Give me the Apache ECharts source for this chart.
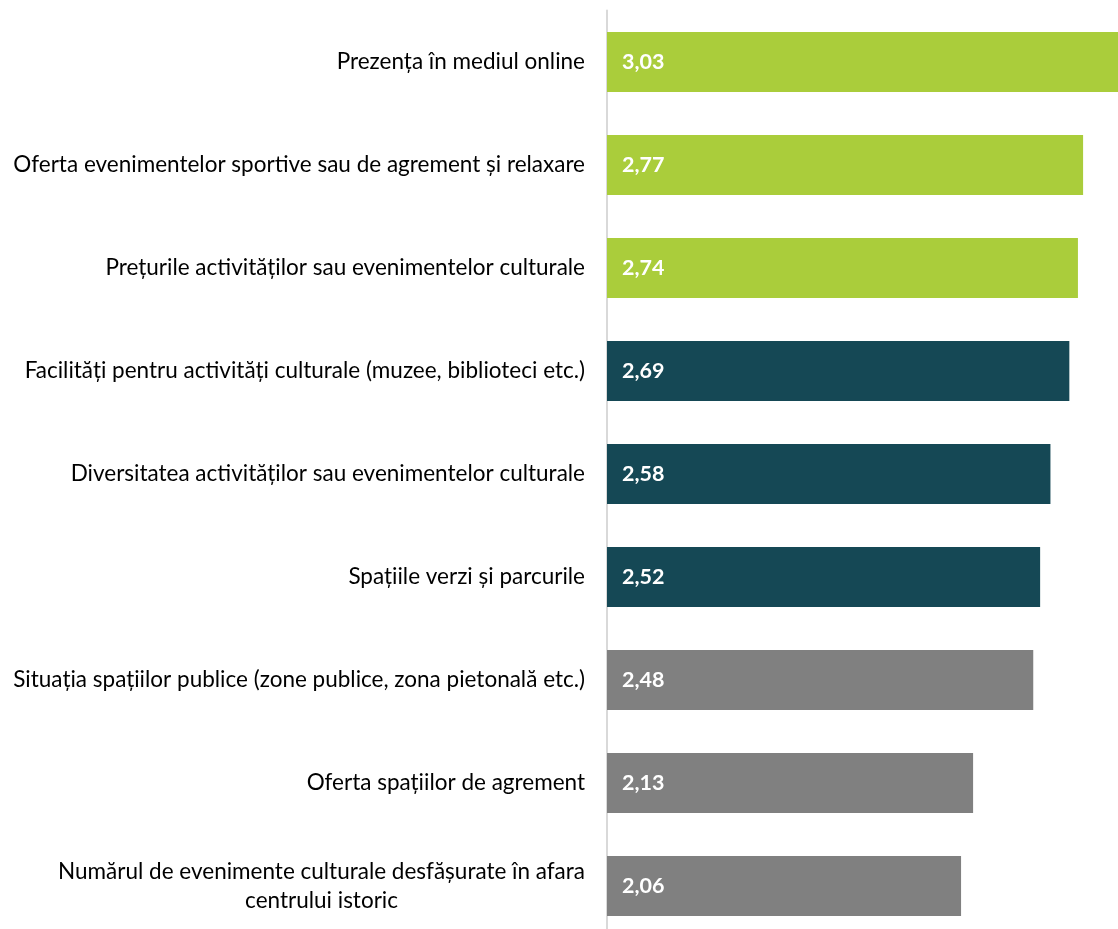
<!DOCTYPE html>
<html>
<head>
<meta charset="utf-8">
<script src="https://cdn.jsdelivr.net/npm/echarts@6/dist/echarts.min.js"></script>
<style>
  html, body { margin: 0; padding: 0; background: #fff; }
  #chart { width: 1118px; height: 929px; }
</style>
</head>
<body>
<div id="chart"></div>
<script>
// categorii (de sus in jos)
var categories = [
    'Prezența în mediul online',
    'Oferta evenimentelor sportive sau de agrement și relaxare',
    'Prețurile activităților sau evenimentelor culturale',
    'Facilități pentru activități culturale (muzee, biblioteci etc.)',
    'Diversitatea activităților sau evenimentelor culturale',
    'Spațiile verzi și parcurile',
    'Situația spațiilor publice (zone publice, zona pietonală etc.)',
    'Oferta spațiilor de agrement',
    'Numărul de evenimente culturale desfășurate în afara\ncentrului istoric'
];
var values = [3.03, 2.77, 2.74, 2.69, 2.58, 2.52, 2.48, 2.13, 2.06];
var groups = ['green', 'green', 'green', 'teal', 'teal', 'teal', 'gray', 'gray', 'gray'];

var palette = { green: '#aacd3b', teal: '#154855', gray: '#808080' };

var myChart = echarts.init(document.getElementById('chart'));

var option = {
    animation: false,
    grid: {
        left: 607,
        right: -39,
        top: 10.5,
        bottom: -8.5,
        outerBoundsMode: 'none'
    },
    xAxis: {
        type: 'value',
        min: 0,
        max: 3.2,
        show: false
    },
    yAxis: {
        type: 'category',
        inverse: true,
        data: categories,
        axisLine: { lineStyle: { color: '#d9d9d9', width: 2 } },
        axisTick: { show: false },
        axisLabel: {
            margin: 22,
            fontFamily: 'Lato',
            fontSize: 22.5,
            color: '#000',
            lineHeight: 29,
            align: 'right',
            // liniile etichetelor pe doua randuri sunt centrate intre ele
            formatter: function (v) {
                return v.split('\n').map(function (s) {
                    return '{c|' + s + '}';
                }).join('\n');
            },
            rich: {
                c: {
                    align: 'center',
                    fontFamily: 'Lato',
                    fontSize: 22.5,
                    color: '#000',
                    lineHeight: 29
                }
            }
        }
    },
    series: [{
        type: 'bar',
        barWidth: 60,
        data: values.map(function (v, i) {
            return { value: v, itemStyle: { color: palette[groups[i]] } };
        }),
        label: {
            show: true,
            position: 'insideLeft',
            distance: 15,
            color: '#fff',
            fontFamily: 'Lato',
            fontWeight: 'bold',
            fontSize: 21.5,
            formatter: function (p) {
                return p.value.toFixed(2).replace('.', ',');
            }
        }
    }]
};
myChart.setOption(option);
</script>
</body>
</html>
